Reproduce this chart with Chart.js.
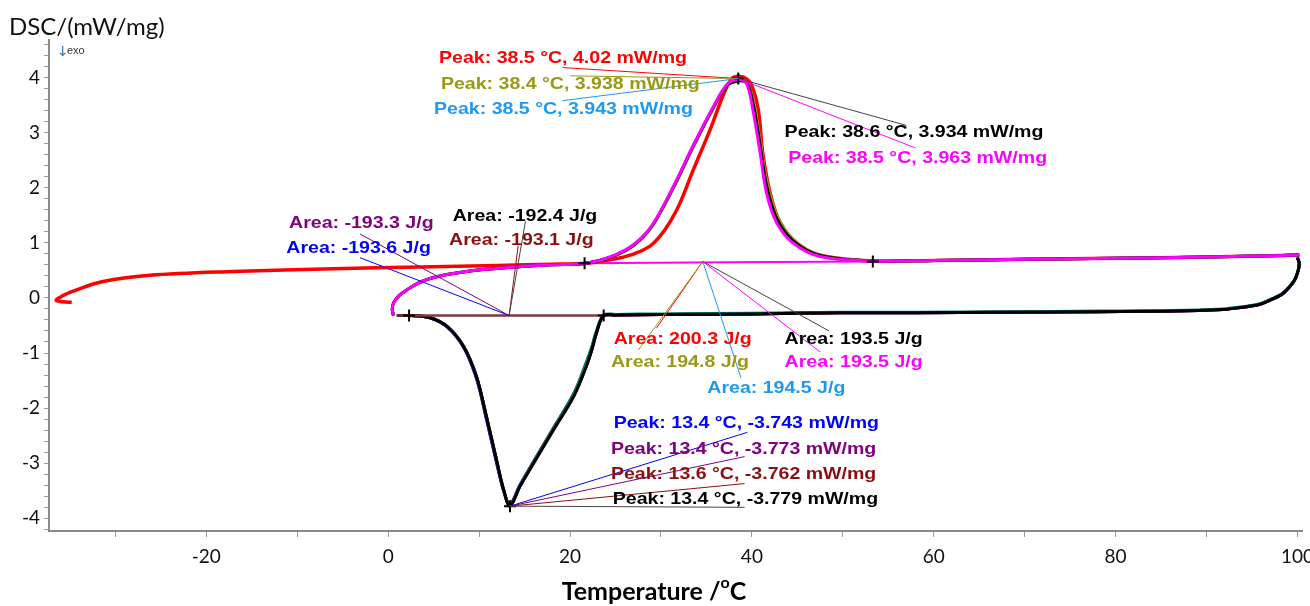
<!DOCTYPE html>
<html>
<head>
<meta charset="utf-8">
<script src="https://cdn.jsdelivr.net/npm/chart.js"></script>
<style>
  html, body { margin: 0; padding: 0; background: #fff; }
  #wrap { width: 1310px; height: 606px; position: relative; }
</style>
</head>
<body>
<div id="wrap"><canvas id="dsc"></canvas></div>
<script>
// heating run 1, starts at about -37 °C (red)
const heat1Temp = [-34.8, -36.5, -35.8, -34.5, -31.6, -26.2, -17.0, -6.0, 3.5, 12.0, 18.0, 21.8, 24.4, 26.9, 28.8, 29.9, 31.0, 32.1, 33.5, 35.4, 36.9, 37.8, 38.6, 39.4, 40.0, 40.7, 41.2, 42.0, 43.1, 45.3, 48.2, 53.3, 60, 70, 80, 90, 98.4, 100.2];
const heat1Dsc = [-0.08, -0.05, 0.04, 0.13, 0.29, 0.41, 0.48, 0.53, 0.56, 0.59, 0.61, 0.63, 0.69, 0.79, 0.94, 1.12, 1.38, 1.72, 2.3, 3.05, 3.7, 3.98, 4.02, 3.98, 3.85, 3.42, 2.63, 1.91, 1.37, 0.93, 0.75, 0.67, 0.68, 0.70, 0.72, 0.74, 0.77, 0.78];

// heating runs 2-5, start at 0 °C
const heatTemp = [0.58, 0.45, 0.6, 1.2, 2.1, 3.2, 5.0, 8.6, 14.1, 18.0, 21.4, 24.0, 26.2, 27.8, 29.2, 31.4, 33.5, 35.8, 37.3, 38.5, 39.4, 40.1, 40.9, 41.6, 42.7, 44.5, 47.5, 53.3, 60, 70, 80, 90, 98.4, 100.2];
const heat2Dsc = [-0.32, -0.2, -0.09, 0.04, 0.15, 0.26, 0.37, 0.48, 0.56, 0.6, 0.62, 0.71, 0.86, 1.06, 1.34, 2.0, 2.72, 3.45, 3.86, 3.938, 3.92, 3.62, 2.88, 2.15, 1.52, 1.07, 0.78, 0.67, 0.68, 0.7, 0.72, 0.74, 0.77, 0.78];
const heat3Dsc = [-0.32, -0.2, -0.09, 0.04, 0.15, 0.26, 0.37, 0.48, 0.56, 0.6, 0.62, 0.72, 0.87, 1.07, 1.35, 2.02, 2.74, 3.47, 3.87, 3.943, 3.9, 3.5, 2.72, 1.98, 1.41, 1.02, 0.76, 0.67, 0.68, 0.7, 0.72, 0.74, 0.77, 0.78];
const heat4Dsc = [-0.32, -0.2, -0.09, 0.04, 0.15, 0.26, 0.37, 0.48, 0.56, 0.6, 0.62, 0.71, 0.87, 1.07, 1.35, 2.02, 2.74, 3.47, 3.86, 3.934, 3.91, 3.55, 2.78, 2.05, 1.45, 1.04, 0.77, 0.67, 0.68, 0.7, 0.72, 0.74, 0.77, 0.78];
const heat5Dsc = [-0.32, -0.2, -0.09, 0.04, 0.15, 0.26, 0.37, 0.48, 0.56, 0.6, 0.62, 0.72, 0.88, 1.08, 1.36, 2.03, 2.75, 3.48, 3.88, 3.963, 3.9, 3.42, 2.64, 1.91, 1.37, 1.0, 0.75, 0.67, 0.68, 0.7, 0.72, 0.74, 0.77, 0.78];

// cooling runs, 100 °C down to 0 °C
const coolTemp = [100.0, 100.2, 100.0, 99.6, 98.4, 97.0, 95.8, 93.5, 91.8, 86.3, 78, 68, 58, 49.7, 40, 30, 25, 23.7, 22.9, 22.4, 21.8, 20.4, 18.2, 16.0, 14.5, 13.4, 12.7, 11.9, 10.8, 9.7, 8.3, 6.5, 4.6, 2.4, 0.96];
const cool1Dsc = [0.73, 0.62, 0.45, 0.3, 0.08, -0.04, -0.12, -0.18, -0.21, -0.24, -0.25, -0.26, -0.27, -0.27, -0.29, -0.3, -0.31, -0.32, -0.63, -0.93, -1.22, -1.77, -2.37, -2.97, -3.39, -3.743, -3.5, -2.98, -2.2, -1.46, -0.9, -0.53, -0.36, -0.32, -0.32];
const cool2Dsc = [0.73, 0.62, 0.45, 0.3, 0.08, -0.04, -0.12, -0.18, -0.21, -0.24, -0.25, -0.26, -0.27, -0.27, -0.29, -0.3, -0.31, -0.32, -0.64, -0.94, -1.23, -1.78, -2.38, -2.99, -3.41, -3.773, -3.49, -2.95, -2.17, -1.44, -0.89, -0.52, -0.36, -0.32, -0.32];
const cool3Dsc = [0.73, 0.62, 0.45, 0.3, 0.08, -0.04, -0.12, -0.18, -0.21, -0.24, -0.25, -0.26, -0.27, -0.27, -0.29, -0.3, -0.31, -0.32, -0.62, -0.9, -1.18, -1.74, -2.35, -2.97, -3.41, -3.75, -3.5, -2.93, -2.15, -1.42, -0.88, -0.52, -0.36, -0.32, -0.32];
const cool4Dsc = [0.73, 0.62, 0.45, 0.3, 0.08, -0.04, -0.12, -0.18, -0.21, -0.24, -0.25, -0.26, -0.27, -0.27, -0.29, -0.3, -0.31, -0.32, -0.64, -0.94, -1.24, -1.79, -2.39, -3.0, -3.42, -3.779, -3.48, -2.93, -2.15, -1.42, -0.88, -0.52, -0.36, -0.32, -0.32];
const cool5Dsc = [0.74, 0.63, 0.46, 0.31, 0.09, -0.03, -0.11, -0.17, -0.2, -0.23, -0.24, -0.25, -0.26, -0.26, -0.28, -0.29, -0.3, -0.31, -0.6, -0.88, -1.16, -1.74, -2.36, -2.98, -3.41, -3.77, -3.48, -2.93, -2.15, -1.42, -0.88, -0.52, -0.36, -0.32, -0.32];

// integration baselines and limit markers
const heatBaseTemp = [21.6, 53.3];
const heatBaseDsc = [0.63, 0.66];
const coolBaseTemp = [0.96, 23.7];
const coolBaseDsc = [-0.32, -0.32];
const markTemp = [2.3, 23.7, 21.6, 53.3, 38.5, 13.4];
const markDsc = [-0.32, -0.32, 0.63, 0.66, 3.98, -3.779];

// evaluation results (order: red, olive, light blue, black, magenta)
const heatPeakT = [38.5, 38.4, 38.5, 38.6, 38.5];
const heatPeakDsc = [4.02, 3.938, 3.943, 3.934, 3.963];
const heatArea = [200.3, 194.8, 194.5, 193.5, 193.5];
// cooling results (order: blue, purple, dark red, black)
const coolPeakT = [13.4, 13.4, 13.6, 13.4];
const coolPeakDsc = [-3.743, -3.773, -3.762, -3.779];
const coolArea = [-193.6, -193.3, -193.1, -192.4];

const xTicks = [-30, -20, -10, 0, 10, 20, 30, 40, 50, 60, 70, 80, 90, 100];
const yTicks = [];
for (let i = -21; i <= 23; i++) yTicks.push(i / 5);

const heatColors = ['#ff0000', '#999914', '#1e98f0', '#000000', '#ff00ff'];
const coolColors = ['#0000ff', '#800080', '#8b0f0f', '#000000'];

const pts = (xs, ys) => xs.map((x, i) => ({ x: x, y: ys[i] }));

function curve(xs, ys, color, width) {
  return {
    data: pts(xs, ys),
    borderColor: color,
    borderWidth: width,
    showLine: true,
    pointRadius: 0,
    tension: 0.35,
    fill: false,
  };
}

// where the result texts sit, and where their leader lines go
const heatPeakLayout = [
  { at: [5.6, 4.34], from: [19.2, 4.18] },
  { at: [5.8, 3.87], from: [20.0, 4.03] },
  { at: [5.05, 3.42], from: [19.2, 3.58] },
  { at: [43.6, 3.0], from: [57.0, 3.13] },
  { at: [44.0, 2.53], from: [58.0, 2.72] },
];
const heatAreaLayout = [
  { at: [24.8, -0.75], from: [29.5, -0.55] },
  { at: [24.5, -1.17], from: [27.5, -0.95] },
  { at: [35.1, -1.64], from: [38.8, -1.45] },
  { at: [43.6, -0.75], from: [48.5, -0.6] },
  { at: [43.6, -1.17], from: [47.5, -0.98] },
];
const coolAreaLayout = [
  { at: [-11.2, 0.9], from: [-3.1, 0.73] },
  { at: [-10.9, 1.35], from: [-3.1, 1.16] },
  { at: [6.7, 1.04], from: [14.3, 0.95] },
  { at: [7.1, 1.48], from: [15.1, 1.39] },
];
const coolPeakLayout = [
  { at: [24.8, -2.28], from: [39.5, -2.44] },
  { at: [24.5, -2.74], from: [39.2, -2.88] },
  { at: [24.5, -3.21], from: [39.2, -3.37] },
  { at: [24.7, -3.66], from: [39.2, -3.8] },
];
const heatAreaTip = [34.6, 0.66];
const coolAreaTip = [13.3, -0.32];

const notes = [];
heatPeakT.forEach((t, i) => notes.push({ text: 'Peak: ' + t + ' °C, ' + heatPeakDsc[i] + ' mW/mg', color: heatColors[i], at: heatPeakLayout[i].at, from: heatPeakLayout[i].from, to: [heatPeakT[4], markDsc[4]] }));
heatArea.forEach((a, i) => notes.push({ text: 'Area: ' + a + ' J/g', color: heatColors[i], at: heatAreaLayout[i].at, from: heatAreaLayout[i].from, to: heatAreaTip }));
coolArea.forEach((a, i) => notes.push({ text: 'Area: ' + a + ' J/g', color: coolColors[i], at: coolAreaLayout[i].at, from: coolAreaLayout[i].from, to: coolAreaTip }));
coolPeakT.forEach((t, i) => notes.push({ text: 'Peak: ' + t + ' °C, ' + coolPeakDsc[i] + ' mW/mg', color: coolColors[i], at: coolPeakLayout[i].at, from: coolPeakLayout[i].from, to: [coolPeakT[0], markDsc[5]] }));

const notesPlugin = {
  id: 'notes',
  afterDatasetsDraw(chart) {
    const ctx = chart.ctx;
    const xs = chart.scales.x;
    const ys = chart.scales.y;
    ctx.save();
    notes.forEach((n) => {
      ctx.strokeStyle = n.color === '#000000' ? '#444' : n.color;
      ctx.lineWidth = 1;
      ctx.beginPath();
      ctx.moveTo(xs.getPixelForValue(n.from[0]), ys.getPixelForValue(n.from[1]));
      ctx.lineTo(xs.getPixelForValue(n.to[0]), ys.getPixelForValue(n.to[1]));
      ctx.stroke();
    });
    notes.forEach((n) => {
      ctx.save();
      ctx.translate(xs.getPixelForValue(n.at[0]), ys.getPixelForValue(n.at[1]));
      ctx.scale(1.15, 1);
      ctx.font = 'bold 17px "Liberation Sans", Arial, sans-serif';
      ctx.fillStyle = n.color;
      ctx.textAlign = 'left';
      ctx.textBaseline = 'middle';
      ctx.fillText(n.text, 0, 0);
      ctx.restore();
    });

    // y axis title and exo marker
    ctx.fillStyle = '#111';
    ctx.textAlign = 'left';
    ctx.textBaseline = 'middle';
    ctx.font = '24px Lato, "Open Sans", sans-serif';
    ctx.fillText('DSC/(mW/mg)', 9, 27);
    ctx.font = '14px "DejaVu Sans", sans-serif';
    ctx.fillStyle = '#2a6fc0';
    ctx.fillText('\u2193', 57, 52);
    ctx.font = '11px "Liberation Sans", Arial, sans-serif';
    ctx.fillStyle = '#333';
    ctx.fillText('exo', 67, 51);

    // x axis title with raised o
    const cx = 654;
    const big = 'bold 25px Lato, "Open Sans", sans-serif';
    const small = 'bold 16px Lato, "Open Sans", sans-serif';
    ctx.font = big;
    const w1 = ctx.measureText('Temperature /').width;
    const w3 = ctx.measureText('C').width;
    ctx.font = small;
    const w2 = ctx.measureText('o').width;
    const x0 = cx - (w1 + w2 + w3) / 2;
    ctx.fillStyle = '#000';
    ctx.textBaseline = 'alphabetic';
    ctx.font = big;
    ctx.fillText('Temperature /', x0, 600);
    ctx.font = small;
    ctx.fillText('o', x0 + w1, 588);
    ctx.font = big;
    ctx.fillText('C', x0 + w1 + w2, 600);
    ctx.restore();
  },
};

const datasets = [
  {
    data: pts(markTemp, markDsc),
    pointStyle: 'cross',
    pointRadius: 6,
    pointBorderWidth: 2,
    pointBorderColor: '#000',
    showLine: false,
  },
  curve(heatTemp, heat5Dsc, heatColors[4], 3),
  curve(heatTemp, heat4Dsc, heatColors[3], 3),
  curve(heatTemp, heat2Dsc, heatColors[1], 3),
  curve(heatTemp, heat3Dsc, heatColors[2], 3),
  curve(heat1Temp, heat1Dsc, heatColors[0], 3.5),
  curve(heatBaseTemp, heatBaseDsc, '#ff00ff', 2),
  curve(coolBaseTemp, coolBaseDsc, '#7a3b3b', 2.5),
  curve(coolTemp, cool4Dsc, coolColors[3], 3),
  curve(coolTemp, cool5Dsc, '#008080', 3),
  curve(coolTemp, cool3Dsc, coolColors[2], 3),
  curve(coolTemp, cool2Dsc, coolColors[1], 3),
  curve(coolTemp, cool1Dsc, coolColors[0], 3),
];

new Chart(document.getElementById('dsc'), {
  type: 'scatter',
  data: { datasets: datasets },
  options: {
    responsive: true,
    maintainAspectRatio: false,
    animation: false,
    layout: { padding: { top: 40, right: 7, left: 0, bottom: 0 } },
    plugins: { legend: { display: false }, tooltip: { enabled: false } },
    scales: {
      x: {
        type: 'linear',
        min: -37.3,
        max: 100.5,
        afterBuildTicks: (axis) => { axis.ticks = xTicks.map((v) => ({ value: v })); },
        afterFit: (axis) => { axis.height = 75; axis.paddingLeft = 0; axis.paddingRight = 0; },
        ticks: {
          autoSkip: false,
          maxRotation: 0,
          padding: 8,
          color: '#111',
          font: { family: 'Lato, "Open Sans", sans-serif', size: 19 },
          callback: (v) => (v % 20 === 0 ? v : ''),
        },
        grid: { drawOnChartArea: false, drawTicks: true, tickLength: 6, color: '#999' },
        border: { color: '#8a8a8a', width: 2 },
      },
      y: {
        type: 'linear',
        min: -4.23,
        max: 4.68,
        afterBuildTicks: (axis) => { axis.ticks = yTicks.map((v) => ({ value: v })); },
        afterFit: (axis) => { axis.width = 49; axis.paddingTop = 0; axis.paddingBottom = 0; },
        ticks: {
          autoSkip: false,
          padding: 4,
          color: '#111',
          font: { family: 'Lato, "Open Sans", sans-serif', size: 19 },
          callback: (v) => (Math.abs(v - Math.round(v)) < 1e-6 ? Math.round(v) : ''),
        },
        grid: { drawOnChartArea: false, drawTicks: true, tickLength: 5, color: '#999' },
        border: { color: '#8a8a8a', width: 2 },
      },
    },
  },
  plugins: [notesPlugin],
});
</script>
</body>
</html>
